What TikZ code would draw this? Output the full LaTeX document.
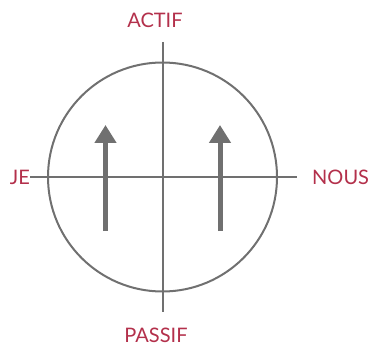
\documentclass[tikz,border=0pt]{standalone}
\usepackage{fontspec}
\setmainfont{Lato}
\usetikzlibrary{arrows.meta}
\definecolor{axisgray}{HTML}{707070}
\definecolor{labelred}{HTML}{B3304B}

\begin{document}
\begin{tikzpicture}[x=1pt, y=-1pt,
  every node/.style={font=\fontsize{20}{24}\selectfont, text=labelred, inner sep=0pt},
  axis/.style={draw=axisgray, line width=2pt},
  upward/.style={draw=axisgray, line width=5pt, -{Triangle[width=21pt,length=18pt]}}]
\useasboundingbox (0,0) rectangle (374,347);
% circle
\draw[axis] (162.5,177) circle (114.5);
% axis end points
\coordinate (w) at (30,177);
\coordinate (e) at (297,177);
\coordinate (n) at (163,42);
\coordinate (s) at (163,312);
% labels
\node[anchor=east] (je) at (w) {JE};
\node[anchor=west] (nous) at (312,177) {NOUS};
\node (actif) at (155,20) {ACTIF};
\node (passif) at (156,335) {PASSIF};
% axes
\draw[axis] (w) -- (e);
\draw[axis] (n) -- (s);
% arrows
\coordinate (a1) at (105.5,231);
\coordinate (b1) at (105.5,125);
\coordinate (a2) at (220,231);
\coordinate (b2) at (220,125);
\draw[upward] (a1) -- (b1);
\draw[upward] (a2) -- (b2);
\end{tikzpicture}
\end{document}
